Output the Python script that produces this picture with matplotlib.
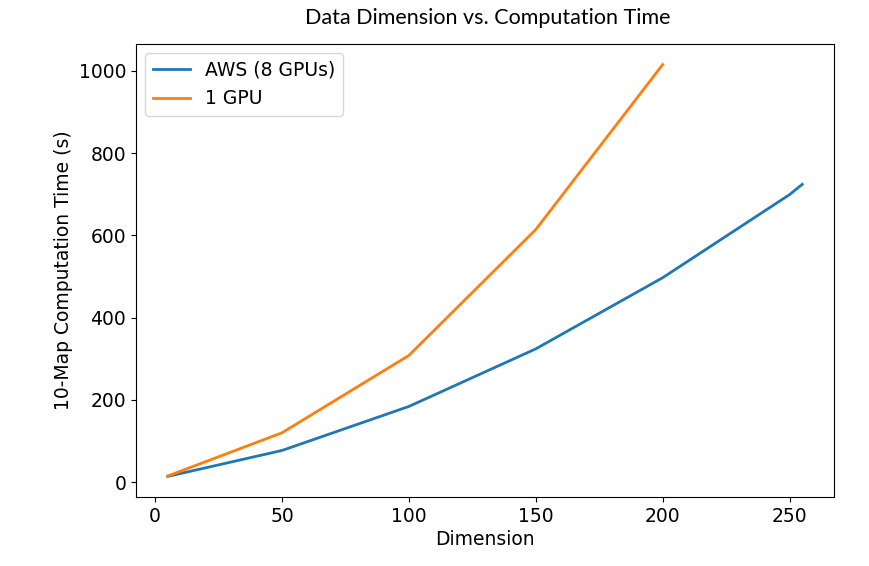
import matplotlib
matplotlib.use("Agg")
import matplotlib.pyplot as plt

# data
dims_aws = [5, 50, 100, 150, 200, 250, 255]
time_aws = [14, 77, 184, 324, 497, 699, 724]
dims_gpu = [5, 50, 100, 150, 200]
time_gpu = [15, 120, 308, 614, 1015]

plt.rcParams['font.family'] = 'DejaVu Sans'
plt.rcParams['font.size'] = 13.5

fig = plt.figure(figsize=(8.69, 5.66), dpi=100)
ax = fig.add_axes([136 / 869, 69 / 566, 698 / 869, 453 / 566])

ax.plot(dims_aws, time_aws, color='#1f77b4', linewidth=2, label='AWS (8 GPUs)')
ax.plot(dims_gpu, time_gpu, color='#ff7f0e', linewidth=2, label='1 GPU')

ax.set_xticks([0, 50, 100, 150, 200, 250])
ax.set_yticks([0, 200, 400, 600, 800, 1000])
ax.set_xlabel('Dimension', labelpad=3)
ax.set_ylabel('10-Map Computation Time (s)')
ax.legend(loc='upper left')

fig.text(488 / 869, 1 - 18 / 566, 'Data Dimension vs. Computation Time',
         ha='center', va='center', fontsize=15.5, family='Lato')

fig.savefig('out.png', dpi=100)
plt.close(fig)
